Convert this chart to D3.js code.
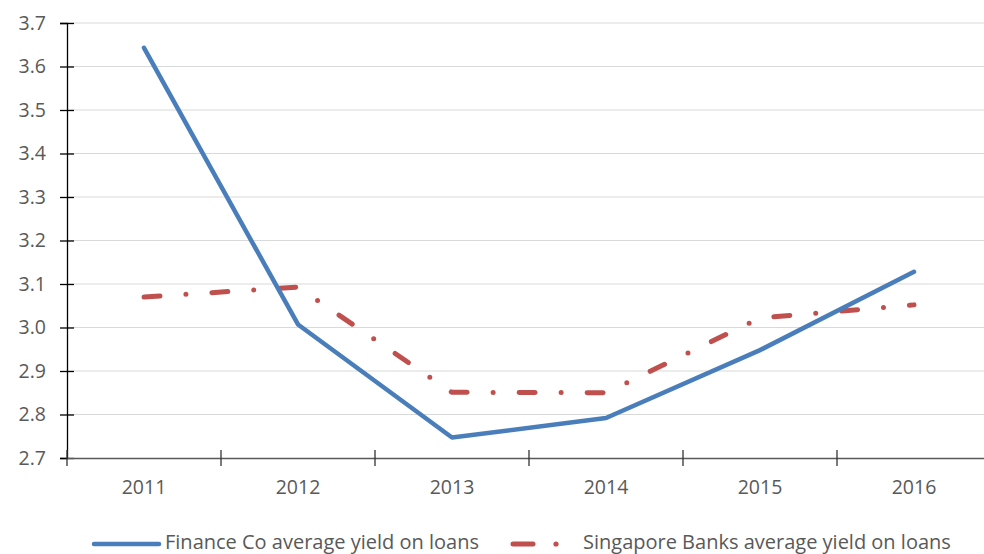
<!DOCTYPE html>
<html>
<head>
<meta charset="utf-8">
<script src="https://cdn.jsdelivr.net/npm/d3@7"></script>
<style>
    body { margin: 0; background: #fff; }
    svg text { font-family: "Open Sans", "Liberation Sans", sans-serif; fill: #595959; }
</style>
</head>
<body>
<svg id="chart" width="984" height="554"></svg>
<script>
// Chart data
const years = ["2011", "2012", "2013", "2014", "2015", "2016"];
const financeCo = [3.643, 3.007, 2.747, 2.792, 2.948, 3.128];
const singaporeBanks = [3.070, 3.093, 2.851, 2.850, 3.022, 3.052];
const yTicks = [2.7, 2.8, 2.9, 3.0, 3.1, 3.2, 3.3, 3.4, 3.5, 3.6, 3.7];

const svg = d3.select("#chart");

let x = d3.scaleBand()
          .domain(years)
          .range([67, 991]);

let y = d3.scaleLinear()
          .domain([2.7, 3.7])
          .range([458, 23]);

// Gridlines
svg.append("g")
   .selectAll("line")
   .data(yTicks.slice(1))
   .enter()
   .append("line")
   .attr("x1", 67)
   .attr("x2", 991)
   .attr("y1", d => y(d))
   .attr("y2", d => y(d))
   .attr("stroke", "#d9d9d9")
   .attr("stroke-width", 1);

// Y axis
let yAxis = svg.append("g")
               .attr("transform", "translate(67,0)")
               .call(d3.axisLeft(y).tickValues(yTicks).tickFormat(d3.format(".1f")).tickSize(7));
yAxis.select(".domain").attr("stroke", "#000").attr("stroke-width", 1.3);
yAxis.selectAll(".tick line").attr("x2", 7).attr("x1", -7).attr("stroke", "#000").attr("stroke-width", 1.3);
yAxis.selectAll(".tick text").style("font-size", "19.5px").attr("x", -21);

// X axis
let xAxis = svg.append("g")
               .attr("transform", "translate(0,458)")
               .call(d3.axisBottom(x).tickSize(0).tickPadding(22));
xAxis.select(".domain").attr("stroke", "#595959").attr("stroke-width", 1.5);
xAxis.selectAll(".tick text").style("font-size", "19.5px");
svg.append("g")
   .selectAll("line")
   .data(years)
   .enter()
   .append("line")
   .attr("x1", d => x(d))
   .attr("x2", d => x(d))
   .attr("y1", 450)
   .attr("y2", 466)
   .attr("stroke", "#333")
   .attr("stroke-width", 1.3);

// Series lines
let line = d3.line()
             .x((d, i) => x(years[i]) + x.bandwidth() / 2)
             .y(d => y(d));

svg.append("path")
   .datum(singaporeBanks)
   .attr("d", line)
   .attr("fill", "none")
   .attr("stroke", "#c0504d")
   .attr("stroke-width", 5)
   .attr("stroke-linecap", "round")
   .attr("stroke-dasharray", "16,26,0,26");

svg.append("path")
   .datum(financeCo)
   .attr("d", line)
   .attr("fill", "none")
   .attr("stroke", "#4a7ebb")
   .attr("stroke-width", 4.5)
   .attr("stroke-linejoin", "round")
   .attr("stroke-linecap", "round");

// Legend
let legend = svg.append("g");
legend.append("line")
      .attr("x1", 94).attr("x2", 159)
      .attr("y1", 544).attr("y2", 544)
      .attr("stroke", "#4a7ebb").attr("stroke-width", 4.5).attr("stroke-linecap", "round");
legend.append("text")
      .attr("x", 165).attr("y", 549)
      .style("font-size", "20px")
      .text("Finance Co average yield on loans");
legend.append("line")
      .attr("x1", 513).attr("x2", 533)
      .attr("y1", 544).attr("y2", 544)
      .attr("stroke", "#c0504d").attr("stroke-width", 5).attr("stroke-linecap", "round");
legend.append("circle")
      .attr("cx", 556).attr("cy", 544).attr("r", 2.6)
      .attr("fill", "#c0504d");
legend.append("text")
      .attr("x", 583).attr("y", 549)
      .style("font-size", "20px")
      .text("Singapore Banks average yield on loans");
</script>
</body>
</html>
